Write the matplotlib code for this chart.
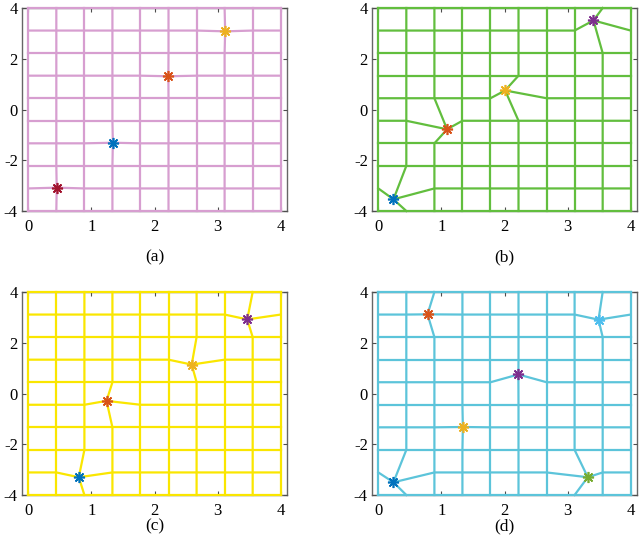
import numpy as np
import matplotlib.pyplot as plt

plt.rcParams['font.family'] = ['Liberation Serif', 'DejaVu Serif']

# grid node coordinates
x_nodes = [0.0, 0.444, 0.889, 1.333, 1.778, 2.222, 2.667, 3.111, 3.556, 4.0]
y_nodes = [-4.0, -3.111, -2.222, -1.333, -0.444, 0.444, 1.333, 2.222, 3.111, 4.0]

# star colours (MATLAB defaults)
c_blue = '#0072BD'
c_orange = '#D95319'
c_yellow = '#EDB120'
c_purple = '#7E2F8E'
c_green = '#77AC30'
c_cyan = '#4DBEEE'
c_red = '#A2142F'

# per panel: moved node index (i, j), new position, star colour
a_nodes = [(1, 1), (3, 3), (5, 6), (7, 8)]
a_pos = [(0.45, -3.08), (1.34, -1.31), (2.22, 1.31), (3.12, 3.08)]
a_cols = [c_red, c_blue, c_orange, c_yellow]

b_nodes = [(1, 1), (2, 4), (5, 5), (8, 8)]
b_pos = [(0.24, -3.54), (1.09, -0.78), (2.01, 0.75), (3.41, 3.51)]
b_cols = [c_blue, c_orange, c_yellow, c_purple]

c_nodes = [(2, 1), (3, 4), (6, 6), (8, 8)]
c_pos = [(0.80, -3.30), (1.24, -0.29), (2.59, 1.14), (3.47, 2.92)]
c_cols = [c_blue, c_orange, c_yellow, c_purple]

d_nodes = [(1, 1), (2, 8), (3, 3), (5, 5), (7, 1), (8, 8)]
d_pos = [(0.24, -3.50), (0.78, 3.12), (1.34, -1.32), (2.22, 0.75), (3.32, -3.30), (3.49, 2.91)]
d_cols = [c_blue, c_orange, c_yellow, c_purple, c_green, c_cyan]

panels = [
    ('(a)', '#D79ED0', a_nodes, a_pos, a_cols),
    ('(b)', '#62BE3E', b_nodes, b_pos, b_cols),
    ('(c)', '#FAE600', c_nodes, c_pos, c_cols),
    ('(d)', '#5CC4DA', d_nodes, d_pos, d_cols),
]

# axes rectangles in pixels: left, top, right, bottom, label y
rects = [(22, 8, 287, 211, 257), (372, 8, 637, 211, 257),
         (22, 292, 287, 495, 526), (372, 292, 637, 495, 526)]

W, H = 640, 542
fig = plt.figure(figsize=(6.4, 5.42), dpi=100)

for (label, mesh_col, nodes, pos, cols), (l, t, r, b, ly) in zip(panels, rects):
    ax = fig.add_axes([l / W, 1 - b / H, (r - l) / W, (b - t) / H])
    X, Y = np.meshgrid(x_nodes, y_nodes, indexing='ij')
    for (i, j), (px, py) in zip(nodes, pos):
        X[i, j] = px
        Y[i, j] = py
    n = len(x_nodes)
    for i in range(n):
        ax.plot(X[i, :], Y[i, :], color=mesh_col, lw=1.6, clip_on=False, zorder=2)
    for j in range(n):
        ax.plot(X[:, j], Y[:, j], color=mesh_col, lw=1.6, clip_on=False, zorder=2)
    for (px, py), col in zip(pos, cols):
        ax.plot(px, py, marker=(8, 2, 0), color=col, ms=8, mew=1.2,
                linestyle='none', clip_on=False, zorder=3)

    ax.set_xlim(-0.1, 4.1)
    ax.set_ylim(-4, 4)
    ax.set_xticks([0, 1, 2, 3, 4])
    ax.set_yticks([-4, -2, 0, 2, 4])
    ax.set_yticklabels(['-4', '-2', '0', '2', '4'])
    ax.tick_params(direction='in', top=True, right=True, length=3,
                   width=0.8, color='0.3', labelsize=12)
    ax.tick_params(axis='x', pad=6)
    ax.tick_params(axis='y', pad=3)
    for s in ax.spines.values():
        s.set_color('0.4')
        s.set_linewidth(1.0)
        s.set_zorder(1)

    fig.text(((l + r) / 2) / W, 1 - ly / H, label, ha='center', va='center',
             fontsize=12.5)

fig.savefig('out.png', dpi=100)
